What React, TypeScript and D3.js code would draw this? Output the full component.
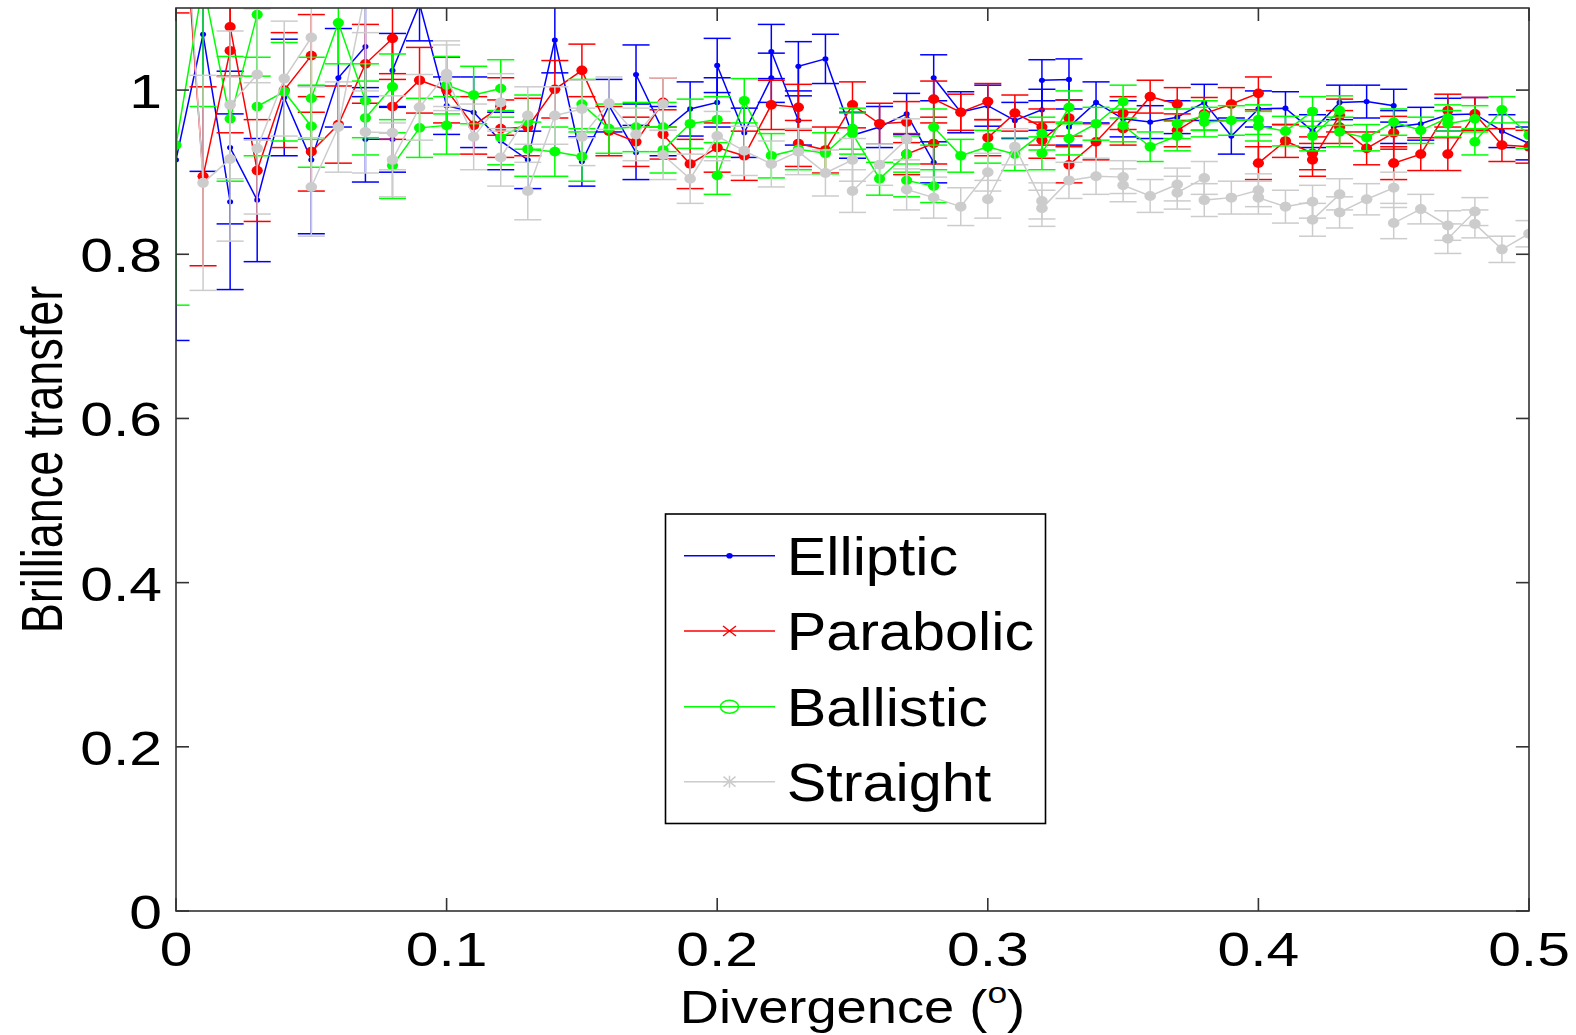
import React from 'react';
import * as d3 from 'd3';

const W = 1576;
const H = 1035;

const xTicks = [0, 0.1, 0.2, 0.3, 0.4, 0.5];
const yTicks = [0, 0.2, 0.4, 0.6, 0.8, 1];
const seriesNames = ['Elliptic', 'Parabolic', 'Ballistic', 'Straight'];
const seriesColors = ['#0000ff', '#ff0000', '#00ff00', '#cccccc'];

// Elliptic
const ellipticX = [0, 0.01, 0.02, 0.02, 0.03, 0.04, 0.05, 0.06, 0.07, 0.07, 0.08, 0.08, 0.09, 0.1, 0.11, 0.12, 0.13, 0.14, 0.15, 0.16, 0.17, 0.17, 0.18, 0.19, 0.2, 0.2, 0.21, 0.22, 0.22, 0.23, 0.23, 0.24, 0.25, 0.26, 0.27, 0.28, 0.28, 0.29, 0.3, 0.31, 0.32, 0.32, 0.33, 0.33, 0.34, 0.35, 0.36, 0.37, 0.38, 0.39, 0.4, 0.41, 0.42, 0.43, 0.44, 0.45, 0.45, 0.46, 0.47, 0.48, 0.49, 0.5];
const ellipticY = [0.915, 1.068, 0.864, 0.93, 0.866, 0.991, 0.915, 1.015, 1.053, 0.94, 0.94, 1.024, 1.105, 0.981, 0.973, 0.938, 0.915, 1.061, 0.913, 0.981, 0.924, 1.019, 0.95, 0.977, 0.985, 1.03, 0.948, 1.015, 1.047, 0.963, 1.029, 1.038, 0.945, 0.955, 0.971, 0.912, 1.015, 0.973, 0.981, 0.963, 0.976, 1.012, 1.013, 0.955, 0.985, 0.965, 0.961, 0.967, 0.985, 0.944, 0.977, 0.978, 0.95, 0.985, 0.986, 0.981, 0.955, 0.959, 0.97, 0.971, 0.95, 0.935];
const ellipticErr = [0.22, 0.167, 0.107, 0.093, 0.075, 0.071, 0.09, 0.06, 0.05, 0.052, 0.04, 0.045, 0.045, 0.035, 0.043, 0.035, 0.035, 0.04, 0.03, 0.032, 0.033, 0.036, 0.03, 0.033, 0.03, 0.033, 0.03, 0.03, 0.033, 0.03, 0.03, 0.03, 0.028, 0.025, 0.025, 0.025, 0.028, 0.025, 0.025, 0.022, 0.025, 0.025, 0.025, 0.022, 0.025, 0.022, 0.02, 0.02, 0.022, 0.022, 0.022, 0.02, 0.02, 0.021, 0.02, 0.02, 0.02, 0.02, 0.02, 0.02, 0.02, 0.02];

// Parabolic
const parabolicX = [0, 0.01, 0.02, 0.02, 0.03, 0.04, 0.05, 0.05, 0.06, 0.07, 0.08, 0.08, 0.09, 0.1, 0.11, 0.12, 0.12, 0.13, 0.14, 0.15, 0.16, 0.17, 0.18, 0.18, 0.19, 0.2, 0.21, 0.22, 0.23, 0.23, 0.24, 0.25, 0.26, 0.27, 0.27, 0.28, 0.28, 0.29, 0.3, 0.3, 0.31, 0.32, 0.32, 0.33, 0.33, 0.34, 0.35, 0.35, 0.36, 0.37, 0.37, 0.38, 0.39, 0.4, 0.4, 0.41, 0.42, 0.42, 0.43, 0.43, 0.44, 0.45, 0.45, 0.46, 0.47, 0.47, 0.48, 0.49, 0.5];
const parabolicY = [1.35, 0.895, 1.048, 1.077, 0.902, 1.0, 1.042, 0.925, 0.958, 1.032, 1.063, 0.98, 1.012, 1.0, 0.957, 0.98, 0.953, 0.955, 1.001, 1.024, 0.95, 0.937, 0.985, 0.946, 0.91, 0.93, 0.92, 0.982, 0.979, 0.935, 0.927, 0.982, 0.959, 0.961, 0.922, 0.935, 0.989, 0.973, 0.986, 0.942, 0.972, 0.955, 0.939, 0.966, 0.909, 0.937, 0.972, 0.953, 0.992, 0.983, 0.951, 0.971, 0.983, 0.996, 0.911, 0.938, 0.923, 0.915, 0.969, 0.955, 0.929, 0.948, 0.911, 0.922, 0.975, 0.922, 0.971, 0.933, 0.931];
const parabolicErr = [0.256, 0.109, 0.1, 0.06, 0.062, 0.07, 0.05, 0.048, 0.047, 0.048, 0.05, 0.04, 0.04, 0.04, 0.035, 0.035, 0.035, 0.035, 0.035, 0.032, 0.03, 0.03, 0.03, 0.03, 0.03, 0.03, 0.03, 0.03, 0.028, 0.028, 0.028, 0.028, 0.025, 0.025, 0.025, 0.025, 0.022, 0.022, 0.022, 0.022, 0.022, 0.022, 0.022, 0.022, 0.022, 0.022, 0.02, 0.02, 0.02, 0.02, 0.02, 0.02, 0.02, 0.02, 0.02, 0.02, 0.02, 0.02, 0.02, 0.02, 0.02, 0.02, 0.02, 0.02, 0.02, 0.02, 0.02, 0.02, 0.02];

// Ballistic
const ballisticX = [0, 0.01, 0.02, 0.03, 0.03, 0.04, 0.05, 0.05, 0.06, 0.07, 0.07, 0.08, 0.08, 0.09, 0.1, 0.1, 0.11, 0.12, 0.12, 0.13, 0.13, 0.14, 0.15, 0.15, 0.16, 0.17, 0.18, 0.18, 0.19, 0.2, 0.2, 0.21, 0.22, 0.23, 0.24, 0.25, 0.25, 0.26, 0.27, 0.27, 0.28, 0.28, 0.29, 0.3, 0.31, 0.32, 0.32, 0.33, 0.33, 0.34, 0.35, 0.35, 0.36, 0.37, 0.37, 0.38, 0.38, 0.39, 0.4, 0.4, 0.41, 0.42, 0.42, 0.43, 0.43, 0.44, 0.45, 0.46, 0.47, 0.47, 0.48, 0.48, 0.49, 0.5];
const ballisticY = [0.933, 1.13, 0.965, 1.092, 0.98, 0.998, 0.956, 0.99, 1.082, 0.987, 0.966, 1.004, 0.908, 0.954, 0.957, 1.006, 0.994, 1.002, 0.942, 0.961, 0.928, 0.925, 0.919, 0.983, 0.953, 0.955, 0.955, 0.927, 0.959, 0.964, 0.896, 0.987, 0.92, 0.928, 0.923, 0.953, 0.947, 0.892, 0.922, 0.89, 0.883, 0.955, 0.92, 0.931, 0.922, 0.947, 0.923, 0.979, 0.941, 0.959, 0.986, 0.957, 0.931, 0.944, 0.959, 0.969, 0.961, 0.963, 0.964, 0.956, 0.95, 0.974, 0.944, 0.975, 0.949, 0.942, 0.961, 0.951, 0.966, 0.959, 0.965, 0.937, 0.976, 0.945];
const ballisticErr = [0.195, 0.15, 0.076, 0.075, 0.06, 0.06, 0.05, 0.05, 0.05, 0.045, 0.045, 0.04, 0.04, 0.036, 0.035, 0.035, 0.035, 0.035, 0.033, 0.033, 0.033, 0.03, 0.03, 0.03, 0.03, 0.03, 0.03, 0.028, 0.03, 0.028, 0.023, 0.027, 0.027, 0.025, 0.025, 0.025, 0.025, 0.02, 0.022, 0.02, 0.02, 0.022, 0.02, 0.02, 0.02, 0.02, 0.02, 0.02, 0.02, 0.02, 0.02, 0.02, 0.018, 0.018, 0.018, 0.018, 0.018, 0.018, 0.018, 0.018, 0.018, 0.018, 0.018, 0.018, 0.018, 0.016, 0.016, 0.016, 0.016, 0.016, 0.016, 0.016, 0.016, 0.016];

// Straight
const straightX = [0, 0.01, 0.02, 0.02, 0.03, 0.03, 0.04, 0.05, 0.05, 0.06, 0.07, 0.07, 0.08, 0.08, 0.09, 0.1, 0.1, 0.11, 0.12, 0.12, 0.13, 0.13, 0.14, 0.15, 0.15, 0.16, 0.17, 0.18, 0.18, 0.19, 0.2, 0.21, 0.22, 0.23, 0.24, 0.25, 0.25, 0.26, 0.27, 0.27, 0.28, 0.29, 0.3, 0.3, 0.31, 0.32, 0.32, 0.33, 0.34, 0.35, 0.35, 0.36, 0.37, 0.37, 0.38, 0.38, 0.39, 0.4, 0.4, 0.41, 0.42, 0.42, 0.43, 0.43, 0.44, 0.45, 0.45, 0.46, 0.47, 0.47, 0.48, 0.48, 0.49, 0.5];
const straightY = [1.4, 0.887, 0.916, 0.982, 1.019, 0.929, 1.014, 1.064, 0.882, 0.955, 1.12, 0.949, 0.948, 0.915, 0.979, 1.02, 1.015, 0.943, 0.985, 0.918, 0.969, 0.877, 0.969, 0.977, 0.943, 0.984, 0.946, 0.983, 0.921, 0.892, 0.944, 0.926, 0.91, 0.925, 0.899, 0.915, 0.877, 0.909, 0.94, 0.879, 0.869, 0.858, 0.9, 0.867, 0.931, 0.865, 0.856, 0.89, 0.895, 0.894, 0.884, 0.871, 0.885, 0.875, 0.893, 0.866, 0.869, 0.878, 0.869, 0.858, 0.864, 0.842, 0.873, 0.851, 0.867, 0.881, 0.838, 0.855, 0.835, 0.819, 0.852, 0.837, 0.806, 0.825];
const straightErr = [0.28, 0.131, 0.1, 0.09, 0.08, 0.08, 0.07, 0.06, 0.06, 0.055, 0.05, 0.05, 0.045, 0.045, 0.04, 0.04, 0.04, 0.04, 0.035, 0.035, 0.035, 0.035, 0.035, 0.035, 0.035, 0.032, 0.032, 0.032, 0.03, 0.03, 0.03, 0.03, 0.028, 0.028, 0.028, 0.026, 0.026, 0.025, 0.025, 0.025, 0.025, 0.023, 0.023, 0.023, 0.022, 0.022, 0.022, 0.022, 0.022, 0.02, 0.02, 0.02, 0.02, 0.02, 0.02, 0.02, 0.02, 0.02, 0.02, 0.02, 0.02, 0.02, 0.019, 0.019, 0.019, 0.019, 0.019, 0.018, 0.018, 0.018, 0.017, 0.017, 0.016, 0.016];

type Pt = { x: number; y: number; e: number };

function zip(xs: number[], ys: number[], es: number[]): Pt[] {
  return xs.map((x, i) => ({ x, y: ys[i], e: es[i] }));
}

const FONT = "'Liberation Sans', Arial, Helvetica, sans-serif";

export default function App() {
  const left = 176, right = 1529, top = 8, bottom = 911;
  const x = d3.scaleLinear().domain([0, 0.5]).range([left, right]);
  const y = d3.scaleLinear().domain([0, 1.1]).range([bottom, top]);
  const capHalf = x(0.005) - x(0);

  const series = [
    { name: seriesNames[0], color: seriesColors[0], pts: zip(ellipticX, ellipticY, ellipticErr), r: [3, 2.6] },
    { name: seriesNames[1], color: seriesColors[1], pts: zip(parabolicX, parabolicY, parabolicErr), r: [5.6, 4.8] },
    { name: seriesNames[2], color: seriesColors[2], pts: zip(ballisticX, ballisticY, ballisticErr), r: [5.6, 4.8] },
    { name: seriesNames[3], color: seriesColors[3], pts: zip(straightX, straightY, straightErr), r: [5.8, 5.0] },
  ];

  const line = d3.line<Pt>().x(d => x(d.x)).y(d => y(d.y));
  const tickLen = 13;
  const axisColor = '#333333';
  const lw = 1.5;

  const legRows = [555.7, 631, 706.7, 781.7];

  return (
    <svg width={W} height={H} style={{ position: 'absolute', left: 0, top: 0, background: '#fff' }}>
      <defs>
        <clipPath id="plotClip">
          <rect x={left} y={top} width={right - left} height={bottom - top} />
        </clipPath>
      </defs>
      <rect x={0} y={0} width={W} height={H} fill="#fff" />
      <g clipPath="url(#plotClip)">
        {series.map(s => (
          <g key={s.name}>
            {s.pts.map((p, i) => {
              const cx = x(p.x);
              const y1 = y(p.y - p.e), y2 = y(p.y + p.e);
              return (
                <g key={i} stroke={s.color} strokeWidth={lw}>
                  <line x1={cx} x2={cx} y1={y1} y2={y2} />
                  <line x1={cx - capHalf} x2={cx + capHalf} y1={y1} y2={y1} />
                  <line x1={cx - capHalf} x2={cx + capHalf} y1={y2} y2={y2} />
                </g>
              );
            })}
            <path d={line(s.pts) || ''} fill="none" stroke={s.color} strokeWidth={lw} />
            {s.pts.map((p, i) => (
              <ellipse key={'m' + i} cx={x(p.x)} cy={y(p.y)} rx={s.r[0]} ry={s.r[1]} fill={s.color} />
            ))}
          </g>
        ))}
      </g>

      {/* axes box */}
      <rect x={left} y={top} width={right - left} height={bottom - top} fill="none" stroke={axisColor} strokeWidth={1.6} />
      {xTicks.map(t => (
        <g key={'xt' + t}>
          <line x1={x(t)} x2={x(t)} y1={bottom} y2={bottom - tickLen} stroke={axisColor} strokeWidth={1.6} />
          <line x1={x(t)} x2={x(t)} y1={top} y2={top + tickLen} stroke={axisColor} strokeWidth={1.6} />
          <text transform={`translate(${x(t)},966) scale(1.2,1)`} textAnchor="middle" fontFamily={FONT} fontSize={49} fill="#000">{String(t)}</text>
        </g>
      ))}
      {yTicks.map(t => (
        <g key={'yt' + t}>
          <line x1={left} x2={left + tickLen} y1={y(t)} y2={y(t)} stroke={axisColor} strokeWidth={1.6} />
          <line x1={right} x2={right - tickLen} y1={y(t)} y2={y(t)} stroke={axisColor} strokeWidth={1.6} />
          <text transform={`translate(162,${y(t) + 18}) scale(1.2,1)`} textAnchor="end" fontFamily={FONT} fontSize={49} fill="#000">{String(t)}</text>
        </g>
      ))}

      {/* axis labels */}
      <text transform={`translate(${(left + right) / 2},1023) scale(1.18,1)`} textAnchor="middle" fontFamily={FONT} fontSize={46} fill="#000">
        Divergence (<tspan dy={-20} fontSize={30}>o</tspan><tspan dy={20}>)</tspan>
      </text>
      <text transform={`translate(62,${(top + bottom) / 2}) rotate(-90) scale(1,1.28)`} textAnchor="middle" fontFamily={FONT} fontSize={45} fill="#000">
        Brilliance transfer
      </text>

      {/* legend */}
      <rect x={665.5} y={514} width={380} height={309.5} fill="#fff" stroke="#000" strokeWidth={1.6} />
      {series.map((s, i) => {
        const ry = legRows[i];
        const mx = 729.5;
        let marker: React.ReactNode = null;
        if (i === 0) marker = <ellipse cx={mx} cy={ry} rx={3.2} ry={2.8} fill={s.color} />;
        if (i === 1) marker = (
          <g stroke={s.color} strokeWidth={1.5}>
            <line x1={mx - 6.5} x2={mx + 6.5} y1={ry - 5} y2={ry + 5} />
            <line x1={mx - 6.5} x2={mx + 6.5} y1={ry + 5} y2={ry - 5} />
          </g>
        );
        if (i === 2) marker = <ellipse cx={mx} cy={ry} rx={9} ry={6.5} fill="none" stroke={s.color} strokeWidth={1.5} />;
        if (i === 3) marker = (
          <g stroke={s.color} strokeWidth={1.5}>
            <line x1={mx - 7} x2={mx + 7} y1={ry} y2={ry} />
            <line x1={mx} x2={mx} y1={ry - 6} y2={ry + 6} />
            <line x1={mx - 6} x2={mx + 6} y1={ry - 5} y2={ry + 5} />
            <line x1={mx - 6} x2={mx + 6} y1={ry + 5} y2={ry - 5} />
          </g>
        );
        return (
          <g key={'leg' + i}>
            <line x1={684} x2={775} y1={ry} y2={ry} stroke={s.color} strokeWidth={1.5} />
            {marker}
            <text transform={`translate(786.7,${ry + 19}) scale(1.12,1)`} fontFamily={FONT} fontSize={53} fill="#000">{s.name}</text>
          </g>
        );
      })}
    </svg>
  );
}
